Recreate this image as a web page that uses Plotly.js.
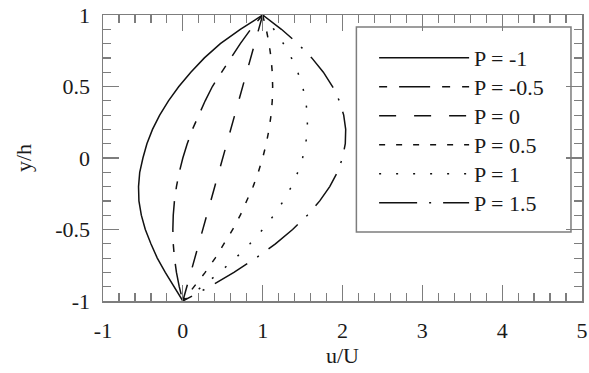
<!DOCTYPE html>
<html>
<head>
<meta charset="utf-8">
<script src="https://cdn.plot.ly/plotly-3.0.1.min.js"></script>
<style>
  html, body { margin: 0; padding: 0; background: #fff; }
  #chart { width: 589px; height: 373px; }
</style>
</head>
<body>
<div id="chart"></div>
<script>
// Channel position y/h (shared by every profile)
const yLevels = [1, 0.9, 0.8, 0.7, 0.6, 0.5, 0.4, 0.3, 0.2, 0.1, 0,
                 -0.1, -0.2, -0.3, -0.4, -0.5, -0.6, -0.7, -0.8, -0.9, -1];

// Velocity profiles u/U for each pressure parameter P
const uPm1  = [1.0, 0.72, 0.47, 0.27, 0.10, -0.05, -0.18, -0.29, -0.38, -0.45, -0.50,
               -0.54, -0.555, -0.55, -0.52, -0.47, -0.40, -0.32, -0.22, -0.11, 0.0];
const uPm05 = [1.0, 0.85, 0.72, 0.60, 0.48, 0.37, 0.28, 0.195, 0.12, 0.055, 0.0,
               -0.045, -0.08, -0.105, -0.12, -0.125, -0.12, -0.105, -0.08, -0.045, 0.0];
const uP0   = [1.0, 0.95, 0.90, 0.85, 0.80, 0.75, 0.70, 0.65, 0.60, 0.55, 0.50,
               0.45, 0.40, 0.35, 0.30, 0.25, 0.20, 0.15, 0.10, 0.05, 0.0];
const uP05  = [1.0, 1.045, 1.08, 1.105, 1.12, 1.125, 1.12, 1.105, 1.08, 1.045, 1.0,
               0.945, 0.88, 0.805, 0.72, 0.625, 0.52, 0.405, 0.28, 0.145, 0.0];
const uP1   = [1.0, 1.14, 1.26, 1.36, 1.44, 1.50, 1.54, 1.56, 1.56, 1.54, 1.50,
               1.44, 1.36, 1.26, 1.14, 1.0, 0.84, 0.66, 0.46, 0.24, 0.0];
const uP15  = [1.0, 1.235, 1.44, 1.615, 1.76, 1.875, 1.96, 2.015, 2.04, 2.035, 2.0,
               1.935, 1.84, 1.715, 1.56, 1.375, 1.16, 0.915, 0.64, 0.335, 0.0];

const seriesNames = ['P = -1', 'P = -0.5', 'P = 0', 'P = 0.5', 'P = 1', 'P = 1.5'];
const seriesU = [uPm1, uPm05, uP0, uP05, uP1, uP15];
const dashes = ['solid', '8px,12px,31px,12px', '17px,18px', '6px,11px', '2px,15px', '38px,12px,2px,12px'];

// Tick positions and their labels (plain hyphen for negatives)
const xTickVals = [-1, 0, 1, 2, 3, 4, 5];
const xTickText = ['-1', '0', '1', '2', '3', '4', '5'];
const yTickVals = [-1, -0.5, 0, 0.5, 1];
const yTickText = ['-1', '-0.5', '0', '0.5', '1'];

const serif = "'Liberation Serif', 'Times New Roman', Times, serif";
const textColor = '#1a1a1a';
const frameColor = '#7d7d7d';
const fontSize = 22;

// Each profile gets its own legend entry so the rows sit at a fixed pitch
const legendKeys = ['legend', 'legend2', 'legend3', 'legend4', 'legend5', 'legend6'];

const traces = seriesU.map((u, i) => ({
  x: u,
  y: yLevels,
  type: 'scatter',
  mode: 'lines',
  name: seriesNames[i],
  legend: legendKeys[i],
  line: { color: '#111', width: 1.5, dash: dashes[i] }
}));

const axisCommon = {
  showgrid: false,
  zeroline: false,
  showline: true,
  linecolor: frameColor,
  linewidth: 1.5,
  mirror: 'allticks',
  ticks: 'inside',
  ticklen: 16,
  tickwidth: 1.2,
  tickcolor: frameColor,
  tickmode: 'array',
  tickfont: { family: serif, size: fontSize, color: textColor }
};

const layout = {
  width: 589,
  height: 373,
  margin: { l: 103, r: 7, t: 15, b: 72 },
  paper_bgcolor: '#fff',
  plot_bgcolor: '#fff',
  font: { family: serif, size: fontSize, color: textColor },
  showlegend: true,
  xaxis: Object.assign({}, axisCommon, {
    range: [-1, 5],
    tickvals: xTickVals, ticktext: xTickText,
    ticklabelstandoff: 9,
    minor: { tickmode: 'linear', tick0: -1, dtick: 0.2, ticklen: 8, tickcolor: frameColor, tickwidth: 1.2, ticks: 'inside' },
    title: { text: 'u/U', font: { family: serif, size: fontSize, color: textColor }, standoff: 4 }
  }),
  yaxis: Object.assign({}, axisCommon, {
    range: [-1, 1],
    tickvals: yTickVals, ticktext: yTickText,
    ticklabelstandoff: 7,
    minor: { tickmode: 'linear', tick0: -1, dtick: 0.1, ticklen: 8, tickcolor: frameColor, tickwidth: 1.2, ticks: 'inside' },
    title: { text: 'y/h', font: { family: serif, size: fontSize, color: textColor }, standoff: 17 }
  }),
  shapes: [{
    type: 'rect', xref: 'paper', yref: 'paper',
    x0: 0.529, x1: 0.977, y0: 0.241, y1: 0.958,
    line: { color: frameColor, width: 1.5 },
    fillcolor: '#fff', layer: 'below'
  }]
};

// Row centres of the legend entries, in paper fractions
const legendRowY = [0.8497, 0.7483, 0.6469, 0.5455, 0.4441, 0.3427];
legendKeys.forEach((key, i) => {
  layout[key] = {
    x: 0.566, y: legendRowY[i], xanchor: 'left', yanchor: 'middle',
    bgcolor: 'rgba(0,0,0,0)', borderwidth: 0,
    itemwidth: 90,
    font: { family: serif, size: fontSize, color: textColor }
  };
});

Plotly.newPlot('chart', traces, layout, { staticPlot: true, displayModeBar: false });
</script>
</body>
</html>
